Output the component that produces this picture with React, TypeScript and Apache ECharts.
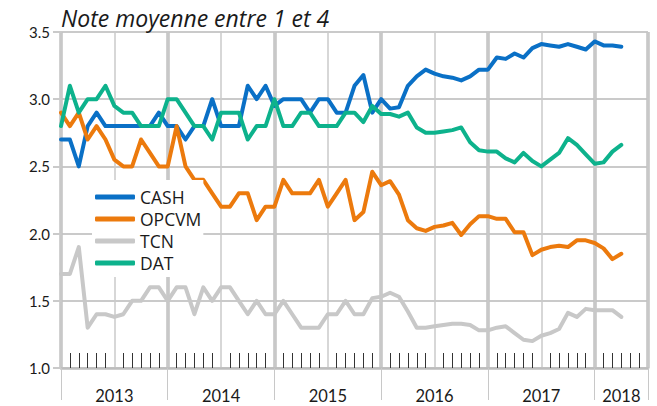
import React, { useEffect, useRef } from 'react';
import * as echarts from 'echarts';

const seriesNames = ['CASH', 'OPCVM', 'TCN', 'DAT'];

// monthly values, Jan 2013 (index 0) to Apr 2018 (index 63)
const cash = [
  2.7, 2.7, 2.5, 2.8, 2.9, 2.8, 2.8, 2.8, 2.8, 2.8, 2.8, 2.9,
  2.8, 2.8, 2.7, 2.8, 2.8, 3.0, 2.8, 2.8, 2.8, 3.1, 3.0, 3.1,
  2.95, 3.0, 3.0, 3.0, 2.9, 3.0, 3.0, 2.9, 2.9, 3.1, 3.18, 2.9,
  3.0, 2.93, 2.94, 3.1, 3.17, 3.22, 3.19, 3.17, 3.16, 3.14, 3.17, 3.22,
  3.22, 3.31, 3.3, 3.34, 3.31, 3.38, 3.41, 3.4, 3.39, 3.41, 3.39, 3.37,
  3.43, 3.4, 3.4, 3.39,
];
const opcvm = [
  2.9, 2.8, 2.9, 2.7, 2.8, 2.7, 2.55, 2.5, 2.5, 2.7, 2.6, 2.5,
  2.5, 2.8, 2.5, 2.4, 2.4, 2.3, 2.2, 2.2, 2.3, 2.3, 2.1, 2.2,
  2.2, 2.4, 2.3, 2.3, 2.3, 2.4, 2.2, 2.3, 2.4, 2.1, 2.16, 2.46,
  2.36, 2.39, 2.29, 2.1, 2.04, 2.02, 2.05, 2.06, 2.08, 1.99, 2.07, 2.13,
  2.13, 2.11, 2.11, 2.01, 2.01, 1.84, 1.88, 1.9, 1.91, 1.9, 1.95, 1.95,
  1.93, 1.89, 1.81, 1.85,
];
const tcn = [
  1.7, 1.7, 1.9, 1.3, 1.4, 1.4, 1.38, 1.4, 1.5, 1.5, 1.6, 1.6,
  1.5, 1.6, 1.6, 1.4, 1.6, 1.5, 1.6, 1.6, 1.5, 1.4, 1.5, 1.4,
  1.4, 1.5, 1.4, 1.3, 1.3, 1.3, 1.4, 1.4, 1.5, 1.4, 1.4, 1.52,
  1.53, 1.56, 1.53, 1.42, 1.3, 1.3, 1.31, 1.32, 1.33, 1.33, 1.32, 1.28,
  1.28, 1.3, 1.31, 1.26, 1.21, 1.2, 1.24, 1.26, 1.29, 1.41, 1.38, 1.44,
  1.43, 1.43, 1.43, 1.38,
];
const dat = [
  2.8, 3.1, 2.9, 3.0, 3.0, 3.1, 2.95, 2.9, 2.9, 2.8, 2.8, 2.8,
  3.0, 3.0, 2.9, 2.8, 2.8, 2.7, 2.9, 2.9, 2.9, 2.7, 2.8, 2.8,
  3.0, 2.8, 2.8, 2.9, 2.9, 2.8, 2.8, 2.8, 2.9, 2.9, 2.83, 2.95,
  2.89, 2.89, 2.87, 2.9, 2.79, 2.75, 2.75, 2.76, 2.77, 2.79, 2.68, 2.62,
  2.61, 2.61, 2.56, 2.53, 2.6, 2.54, 2.5, 2.55, 2.6, 2.71, 2.66, 2.59,
  2.52, 2.53, 2.61, 2.66,
];

const yearLabels = ['2013', '2014', '2015', '2016', '2017', '2018'];
const yearLabelPos = [6, 18, 30, 42, 54, 63];

const colors = ['#0A70C6', '#EC7A0D', '#C8C8C8', '#0DB28C'];

export default function App() {
  const ref = useRef<HTMLDivElement>(null);

  useEffect(() => {
    const chart = echarts.init(ref.current!, null, { renderer: 'svg' });
    const font = 'Lato, "Open Sans", sans-serif';
    const wideFont = '"Open Sans", Lato, sans-serif';
    const toPairs = (arr: number[]) => arr.map((v, i) => [i, v]);
    const allSeries = [cash, opcvm, tcn, dat];

    chart.setOption({
      animation: false,
      backgroundColor: '#ffffff',
      textStyle: { fontFamily: font },
      title: {
        text: 'Note moyenne entre 1 et 4',
        left: 61,
        top: 6,
        padding: 0,
        textStyle: {
          fontStyle: 'italic',
          fontWeight: 'normal',
          fontSize: 23,
          lineHeight: 23,
          color: '#1a1a1a',
          fontFamily: wideFont,
        },
      },
      grid: { left: 61, right: 9, top: 32, bottom: 38 },
      legend: {
        data: seriesNames,
        orient: 'vertical',
        left: 92,
        top: 180,
        padding: [6, 2, 3, 3],
        itemGap: 0,
        itemWidth: 40,
        itemHeight: 5,
        icon: 'roundRect',
        backgroundColor: '#ffffff',
        textStyle: { fontSize: 17.5, color: '#1a1a1a', lineHeight: 22, fontFamily: wideFont },
      },
      xAxis: [
        {
          type: 'value',
          position: 'bottom',
          min: 0,
          max: 66,
          interval: 12,
          axisLine: { show: false },
          axisLabel: { show: false },
          axisTick: { show: true, length: 32, lineStyle: { color: '#c8c8c8', width: 1 } },
          splitLine: { show: true, lineStyle: { color: '#c2c2c2', width: 3.5 } },
        },
        {
          type: 'value',
          position: 'bottom',
          min: 0,
          max: 66,
          interval: 6,
          axisLine: { show: true, lineStyle: { color: '#bdbdbd', width: 2.5 } },
          axisLabel: { show: false },
          axisTick: { show: false, inside: true },
          minorTick: { show: true, splitNumber: 6, length: 15, lineStyle: { color: '#333333', width: 1 } },
          splitLine: { show: true, lineStyle: { color: '#cacaca', width: 1.5 } },
        },
        {
          type: 'value',
          position: 'bottom',
          min: 0,
          max: 66,
          interval: 3,
          axisLine: { show: false },
          axisTick: { show: false },
          splitLine: { show: false },
          axisLabel: {
            margin: 19,
            fontSize: 16.5,
            color: '#1a1a1a',
            fontFamily: font,
            formatter: (v: number) => {
              const k = yearLabelPos.indexOf(v);
              return k >= 0 ? yearLabels[k] : '';
            },
          },
        },
      ],
      yAxis: {
        type: 'value',
        min: 1,
        max: 3.5,
        interval: 0.5,
        axisLine: { show: false },
        axisTick: { show: true, length: 8, lineStyle: { color: '#cacaca', width: 2 } },
        splitLine: { show: true, lineStyle: { color: '#cacaca', width: 2 } },
        axisLabel: {
          margin: 11,
          fontSize: 15,
          color: '#1a1a1a',
          fontFamily: font,
          formatter: (v: number) => v.toFixed(1),
        },
      },
      series: seriesNames.map((name, i) => ({
        name,
        type: 'line',
        xAxisIndex: 0,
        yAxisIndex: 0,
        data: toPairs(allSeries[i]),
        showSymbol: false,
        symbol: 'none',
        color: colors[i],
        lineStyle: { width: 4, color: colors[i], cap: 'round', join: 'round' },
      })),
    });

    return () => chart.dispose();
  }, []);

  return (
    <div style={{ position: 'fixed', left: 0, top: 0, width: 657, height: 406, background: '#fff' }}>
      <div ref={ref} style={{ width: 657, height: 406 }} />
    </div>
  );
}
